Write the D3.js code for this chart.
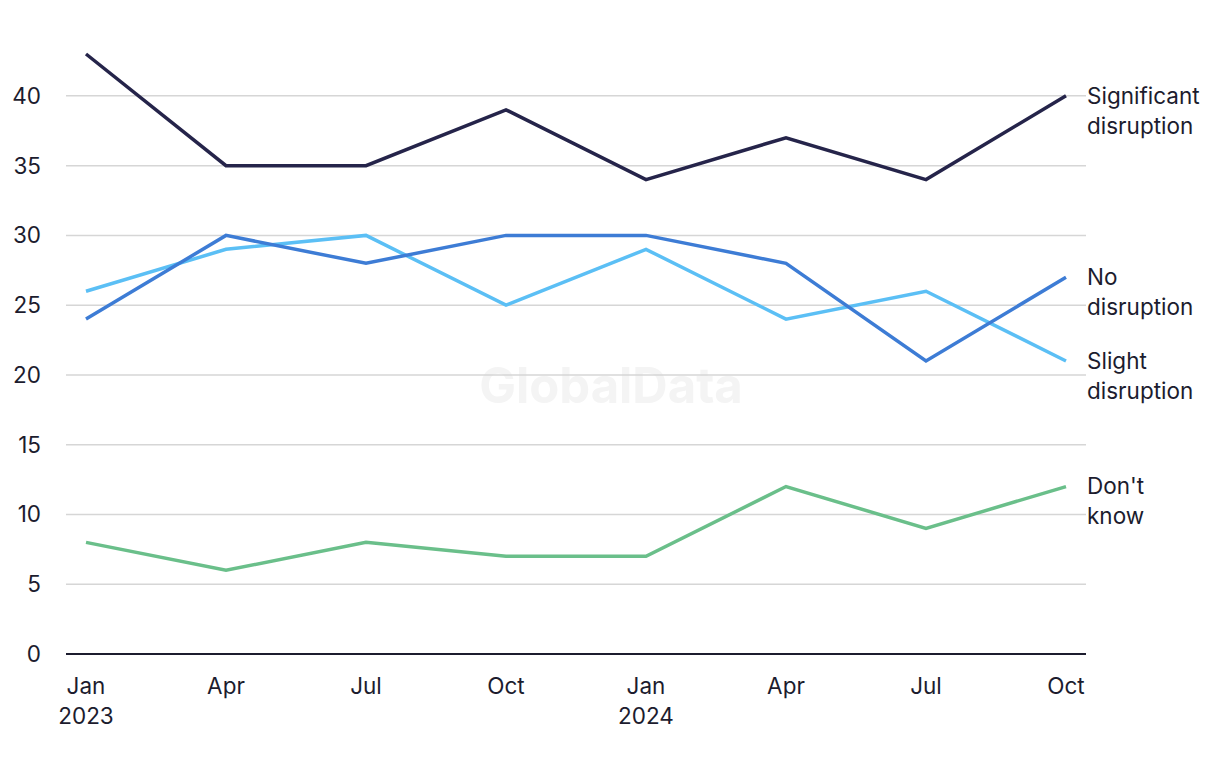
<!DOCTYPE html>
<html>
<head>
<meta charset="utf-8">
<script src="https://cdn.jsdelivr.net/npm/d3@7"></script>
<style>
  body { margin: 0; background: #fff; }
  text { font-family: "Inter", "Liberation Sans", sans-serif; fill: #1c1c2e; }
</style>
</head>
<body>
<div id="chart"></div>
<script>
// data
var months = ["Jan", "Apr", "Jul", "Oct", "Jan", "Apr", "Jul", "Oct"];
var years = ["2023", "", "", "", "2024", "", "", ""];
var significant = [43, 35, 35, 39, 34, 37, 34, 40];
var noDisruption = [24, 30, 28, 30, 30, 28, 21, 27];
var slight = [26, 29, 30, 25, 29, 24, 26, 21];
var dontKnow = [8, 6, 8, 7, 7, 12, 9, 12];
var yTicks = [0, 5, 10, 15, 20, 25, 30, 35, 40];

var series = [
  {name: ["Slight", "disruption"], values: slight, color: "#5bbff5"},
  {name: ["No", "disruption"], values: noDisruption, color: "#3d7cd5"},
  {name: ["Don't", "know"], values: dontKnow, color: "#6abf8a"},
  {name: ["Significant", "disruption"], values: significant, color: "#25244a"}
];

var width = 1220, height = 774;
var gLeft = 66, gRight = 1086, gTop = 54, gBottom = 654;
var fs = "22.5px";

var svg = d3.select("#chart").append("svg")
    .attr("width", width)
    .attr("height", height);

var x = d3.scaleLinear()
    .domain([0, months.length - 1])
    .range([86, 1066]);

var y = d3.scaleLinear()
    .domain([0, 43])
    .range([gBottom, gTop]);

// watermark
svg.append("text")
    .attr("x", 611).attr("y", 403)
    .attr("text-anchor", "middle")
    .style("font-size", "49px")
    .style("font-weight", "bold")
    .style("fill", "#f4f4f4")
    .text("GlobalData");

// grid
svg.append("g")
  .selectAll("line")
  .data(yTicks.filter(function(d) { return d > 0; }))
  .enter().append("line")
    .attr("x1", gLeft).attr("x2", gRight)
    .attr("y1", function(d) { return y(d); })
    .attr("y2", function(d) { return y(d); })
    .attr("stroke", "#d6d6d6")
    .attr("stroke-width", 1.5);

// y labels
svg.append("g")
  .selectAll("text")
  .data(yTicks)
  .enter().append("text")
    .attr("x", 41)
    .attr("y", function(d) { return y(d); })
    .attr("dy", "0.35em")
    .attr("text-anchor", "end")
    .style("font-size", fs)
    .text(function(d) { return d; });

// baseline
svg.append("line")
    .attr("x1", gLeft).attr("x2", gRight)
    .attr("y1", y(0)).attr("y2", y(0))
    .attr("stroke", "#1c1c2e")
    .attr("stroke-width", 2);

// x labels
var xl = svg.append("g")
  .selectAll("text")
  .data(months)
  .enter().append("text")
    .attr("x", function(d, i) { return x(i); })
    .attr("y", 694)
    .attr("text-anchor", "middle")
    .style("font-size", fs);
xl.append("tspan")
    .attr("x", function(d, i) { return x(i); })
    .text(function(d) { return d; });
xl.append("tspan")
    .attr("x", function(d, i) { return x(i); })
    .attr("dy", 30)
    .text(function(d, i) { return years[i]; });

var line = d3.line()
    .x(function(d, i) { return x(i); })
    .y(function(d) { return y(d); });

svg.append("g")
  .selectAll("path")
  .data(series)
  .enter().append("path")
    .attr("d", function(d) { return line(d.values); })
    .attr("fill", "none")
    .attr("stroke", function(d) { return d.color; })
    .attr("stroke-width", 3.5);

// end labels
var lab = svg.append("g")
  .selectAll("text")
  .data(series)
  .enter().append("text")
    .attr("x", 1087)
    .attr("y", function(d) { return y(d.values[d.values.length - 1]); })
    .attr("dy", "0.35em")
    .style("font-size", fs);
lab.append("tspan")
    .attr("x", 1087)
    .text(function(d) { return d.name[0]; });
lab.append("tspan")
    .attr("x", 1087)
    .attr("dy", 30)
    .text(function(d) { return d.name[1]; });
</script>
</body>
</html>
